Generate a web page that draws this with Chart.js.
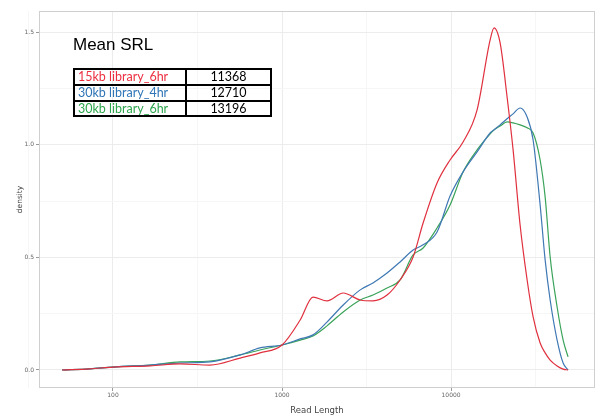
<!DOCTYPE html>
<html>
<head>
<meta charset="utf-8">
<script src="https://cdn.jsdelivr.net/npm/chart.js@4/dist/chart.umd.min.js"></script>
<style>
  body { margin: 0; background: #fff; }
  #wrap { position: relative; width: 604px; height: 416px; }
  #srlTitle {
    position: absolute; left: 73px; top: 36px;
    font: 17px "Liberation Sans", Arial, sans-serif; line-height: 17px; color: #000;
  }
  #srlTable {
    position: absolute; left: 73px; top: 68px; width: 199px;
    border-collapse: collapse; font: 12.5px Lato, sans-serif;
  }
  #srlTable td { border: 2px solid #000; height: 13.8px; padding: 0 3px; line-height: 13px; }
  #srlTable td.val { text-align: center; color: #000; }
</style>
</head>
<body>
<div id="wrap">
  <canvas id="densityChart" width="604" height="416"></canvas>
  <div id="srlTitle">Mean SRL</div>
  <table id="srlTable"></table>
</div>
<script>
// read lengths (x, log scale) shared by the three density curves
var readLength = [50, 73, 100, 166, 250, 375, 565, 740, 1000, 1280, 1525, 1845, 2300, 2900, 3450,
  4180, 4990, 5960, 6830, 8260, 9860, 11770, 14250, 17020, 17960, 19500, 21440, 23270, 25600,
  28170, 30560, 33630, 36000, 38550, 42380, 46000, 49200];

var lib15kb6hr = [0.0, 0.005, 0.013, 0.018, 0.027, 0.022, 0.053, 0.076, 0.111, 0.222, 0.324, 0.307,
  0.342, 0.311, 0.307, 0.333, 0.40, 0.502, 0.653, 0.831, 0.933, 1.013, 1.156, 1.467, 1.52, 1.453,
  1.213, 0.978, 0.644, 0.40, 0.236, 0.12, 0.076, 0.044, 0.018, 0.004, 0.0];

var lib30kb4hr = [0.0, 0.005, 0.013, 0.022, 0.031, 0.036, 0.067, 0.098, 0.111, 0.138, 0.156, 0.213,
  0.289, 0.356, 0.387, 0.431, 0.48, 0.533, 0.556, 0.613, 0.773, 0.88, 0.969, 1.053, 1.067, 1.089,
  1.116, 1.138, 1.164, 1.124, 1.022, 0.733, 0.489, 0.311, 0.133, 0.031, 0.0];

var lib30kb6hr = [0.0, 0.005, 0.013, 0.022, 0.036, 0.04, 0.067, 0.089, 0.111, 0.133, 0.151, 0.196,
  0.258, 0.311, 0.333, 0.364, 0.40, 0.511, 0.542, 0.631, 0.733, 0.88, 0.978, 1.049, 1.067, 1.084,
  1.102, 1.098, 1.089, 1.076, 1.053, 0.933, 0.769, 0.502, 0.28, 0.133, 0.058];

var xTicks = [31.62, 100, 316.2, 1000, 3162, 10000, 31623];
var xTickLabels = ['', '100', '', '1000', '', '10000', ''];
var yTicks = [0, 0.25, 0.5, 0.75, 1.0, 1.25, 1.5];
var yTickLabels = ['0.0', '', '0.5', '', '1.0', '', '1.5'];

var libraryNames = ['15kb library_6hr', '30kb library_4hr', '30kb library_6hr'];
var meanSRL = [11368, 12710, 13196];
var libraryColors = ['#e0303e', '#3f78b4', '#3aa35a'];
var textColors = ['#ec3040', '#2e75b6', '#2ea64e'];

// inset table
var table = document.getElementById('srlTable');
libraryNames.forEach(function (name, i) {
  var tr = document.createElement('tr');
  var td1 = document.createElement('td');
  td1.textContent = name;
  td1.style.color = textColors[i];
  td1.style.width = '104px';
  var td2 = document.createElement('td');
  td2.className = 'val';
  td2.textContent = meanSRL[i];
  tr.appendChild(td1);
  tr.appendChild(td2);
  table.appendChild(tr);
});

function toPoints(ys) {
  return ys.map(function (y, i) { return { x: readLength[i], y: y }; });
}

var seriesValues = [lib15kb6hr, lib30kb4hr, lib30kb6hr];

var panelBorder = {
  id: 'panelBorder',
  afterDraw: function (chart) {
    var a = chart.chartArea, c = chart.ctx;
    c.save();
    c.strokeStyle = '#cfcfcf';
    c.lineWidth = 1;
    c.strokeRect(a.left + 0.5, a.top + 0.5, a.right - a.left - 1, a.bottom - a.top - 1);
    c.restore();
  }
};

function isMajor(labels, i) { return labels[i] !== ''; }

var ctx = document.getElementById('densityChart').getContext('2d');
var densityChart = new Chart(ctx, {
  type: 'line',
  data: {
    datasets: seriesValues.map(function (vals, i) {
      return {
        label: libraryNames[i],
        data: toPoints(vals),
        borderColor: libraryColors[i],
        borderWidth: 1.2,
        pointRadius: 0,
        fill: false,
        cubicInterpolationMode: 'monotone'
      };
    })
  },
  options: {
    responsive: false,
    animation: false,
    layout: { padding: { left: 0, top: 11, right: 9, bottom: 0 } },
    plugins: { legend: { display: false }, tooltip: { enabled: false } },
    scales: {
      x: {
        type: 'logarithmic',
        min: 36.5,
        max: 71000,
        afterBuildTicks: function (s) { s.ticks = xTicks.map(function (v) { return { value: v }; }); },
        afterFit: function (s) { s.height = 28; },
        ticks: {
          autoSkip: false, maxRotation: 0, padding: 1,
          color: '#666', font: { size: 6, family: 'DejaVu Sans' },
          callback: function (v, i) { return xTickLabels[i]; }
        },
        grid: {
          tickLength: 3,
          color: function (c) { return isMajor(xTickLabels, c.index) ? '#ececec' : '#f6f6f6'; },
          tickColor: function (c) { return isMajor(xTickLabels, c.index) ? '#999' : 'rgba(0,0,0,0)'; }
        },
        border: { display: false },
        title: {
          display: true, text: 'Read Length', color: '#444',
          font: { size: 8.5, family: 'DejaVu Sans' }, padding: { top: 9, bottom: 0 }
        }
      },
      y: {
        min: -0.08,
        max: 1.595,
        afterBuildTicks: function (s) { s.ticks = yTicks.map(function (v) { return { value: v }; }); },
        afterFit: function (s) { s.width = 39; },
        ticks: {
          padding: 2, color: '#666', font: { size: 6, family: 'DejaVu Sans' },
          callback: function (v, i) { return yTickLabels[i]; }
        },
        grid: {
          tickLength: 3,
          color: function (c) { return isMajor(yTickLabels, c.index) ? '#ececec' : '#f6f6f6'; },
          tickColor: function (c) { return isMajor(yTickLabels, c.index) ? '#999' : 'rgba(0,0,0,0)'; }
        },
        border: { display: false },
        title: {
          display: true, text: 'density', color: '#444',
          font: { size: 7.5, family: 'DejaVu Sans' }, padding: { top: 16, bottom: 0 }
        }
      }
    }
  },
  plugins: [panelBorder]
});
</script>
</body>
</html>
